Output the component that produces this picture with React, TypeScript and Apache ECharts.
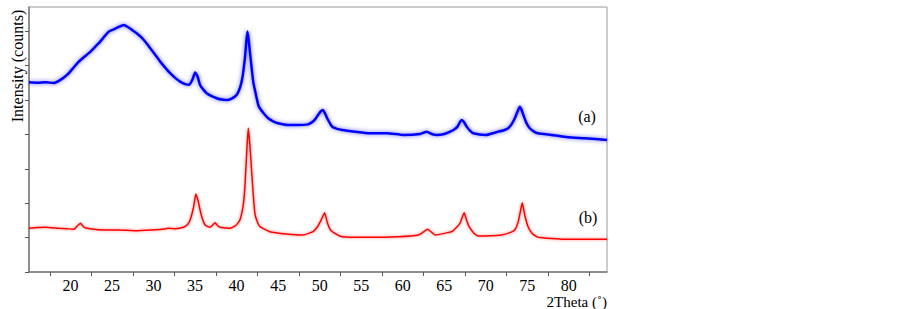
import React, { useEffect, useRef } from "react";
import * as echarts from "echarts";

// 2Theta positions (deg) and intensities (counts, arbitrary offset)
const blueX = [15.0,16.0,17.0,18.0,18.6,19.2,19.8,20.4,21.0,21.6,22.2,22.8,23.4,24.0,24.6,25.2,25.8,26.4,26.9,27.4,28.0,28.6,29.1,29.6,30.2,30.8,31.4,32.0,32.6,33.2,33.8,34.3,34.7,35.0,35.3,35.6,36.0,36.4,37.0,37.6,38.2,38.8,39.4,40.0,40.4,40.7,41.0,41.15,41.3,41.45,41.6,41.8,42.0,42.2,42.6,42.8,43.3,43.8,44.4,45.0,46.2,47.4,48.6,49.0,49.4,49.8,50.1,50.4,50.7,50.9,51.5,52.1,52.7,54.3,56.0,58.1,60.1,62.1,62.9,63.5,64.1,65.0,65.7,66.2,66.6,66.9,67.1,67.4,67.7,68.1,68.5,70.0,71.5,72.2,72.7,73.1,73.5,73.8,74.1,74.3,74.6,74.9,75.3,75.8,76.3,77.9,79.9,81.9,84.6];
const blueY = [5510,5500,5515,5490,5552,5650,5776,5950,6113,6240,6358,6500,6648,6820,6985,7050,7120,7180,7120,7035,6930,6800,6660,6503,6310,6113,5940,5776,5640,5532,5460,5440,5600,5800,5680,5436,5300,5195,5110,5050,5010,5000,5040,5145,5350,5650,6212,6650,6985,6750,6404,5950,5532,5291,4855,4759,4600,4468,4380,4323,4273,4273,4290,4340,4419,4560,4660,4709,4580,4468,4224,4160,4128,4078,4032,4032,3983,4012,4078,4010,3983,4010,4078,4140,4224,4360,4419,4350,4224,4110,4032,3983,4078,4120,4177,4290,4468,4650,4805,4720,4515,4330,4177,4080,4032,3983,3916,3887,3837];

const redX = [15.0,16.0,17.0,18.6,19.5,20.4,20.8,21.2,21.6,22.0,23.8,25.8,27.8,29.8,31.0,31.8,32.6,33.6,34.1,34.4,34.8,35.1,35.4,35.6,35.9,36.2,36.8,37.1,37.4,37.7,38.0,39.2,39.9,40.4,40.8,41.0,41.2,41.4,41.6,41.8,42.0,42.2,42.5,42.8,44.0,46.0,48.0,49.2,49.8,50.2,50.6,50.9,51.3,52.0,52.7,55.5,59.5,61.9,62.6,63.0,63.5,63.9,65.9,66.5,66.9,67.4,67.7,68.0,68.5,69.1,71.9,73.0,73.5,73.9,74.2,74.4,74.7,75.1,75.6,76.3,79.5,84.6];
const redY = [1270,1290,1299,1270,1260,1241,1337,1416,1308,1270,1221,1221,1201,1221,1240,1270,1260,1299,1380,1512,1860,2267,2035,1802,1530,1366,1299,1360,1433,1350,1299,1270,1350,1512,1950,2480,3401,4177,3692,2965,2250,1706,1450,1317,1172,1105,1076,1172,1337,1520,1724,1450,1221,1100,1026,1009,1026,1076,1180,1241,1150,1076,1172,1300,1416,1724,1500,1317,1150,1047,1076,1150,1221,1450,1800,2015,1650,1317,1120,1009,951,951];

const xLabelValues = [20, 25, 30, 35, 40, 45, 50, 55, 60, 65, 70, 75, 80];
const xTickValues = [17.5, 22.5, 27.5, 32.5, 37.5, 42.5, 47.5, 52.5, 57.5, 62.5, 67.5, 72.5, 77.5, 82.5];
const yTickValues = [0, 1000, 2000, 3000, 4000, 5000, 6000, 7000];

const SERIF = "'Liberation Serif', 'DejaVu Serif', serif";

export default function App() {
  const ref = useRef<HTMLDivElement>(null);
  useEffect(() => {
    if (!ref.current) return;
    const chart = echarts.init(ref.current, null, { renderer: "svg" });
    const blue = blueX.map((x, i) => [x, blueY[i]]);
    const red = redX.map((x, i) => [x, redY[i]]);
    chart.setOption({
      animation: false,
      backgroundColor: "#ffffff",
      grid: {
        left: 29,
        top: 7,
        right: 296,
        bottom: 37,
        show: true,
        borderColor: "#9a9a9a",
        borderWidth: 1,
        backgroundColor: "transparent",
      },
      xAxis: {
        type: "value",
        min: 15,
        max: 84.6,
        axisLine: { show: true, onZero: false, lineStyle: { color: "#7a7a7a", width: 1.5 } },
        axisTick: { show: true, inside: false, length: 4, customValues: xTickValues, lineStyle: { color: "#555" } },
        axisLabel: {
          show: true,
          customValues: xLabelValues,
          color: "#000",
          fontFamily: SERIF,
          fontSize: 16,
          lineHeight: 16,
          margin: 5,
        },
        splitLine: { show: false },
      },
      yAxis: {
        type: "value",
        min: 0,
        max: 7700,
        interval: 1000,
        axisLine: { show: true, lineStyle: { color: "#7a7a7a", width: 1.5 } },
        axisTick: { show: true, inside: false, length: 4, customValues: yTickValues, lineStyle: { color: "#555" } },
        axisLabel: { show: false },
        splitLine: { show: false },
      },
      series: [
        {
          name: "(a)",
          type: "line",
          data: blue,
          showSymbol: false,
          smooth: 0.15,
          lineStyle: { color: "#0000ff", width: 2.5, shadowColor: "rgba(0,0,255,0.6)", shadowBlur: 4 },
        },
        {
          name: "(b)",
          type: "line",
          data: red,
          showSymbol: false,
          smooth: 0.15,
          lineStyle: { color: "#ff0000", width: 1.5, shadowColor: "rgba(255,0,0,0.5)", shadowBlur: 3 },
        },
      ],
      graphic: [
        {
          type: "text",
          x: 17,
          y: 66,
          rotation: Math.PI / 2,
          style: {
            text: "Intensity (counts)",
            fontFamily: SERIF,
            fontSize: 16,
            fill: "#000",
            align: "center",
            verticalAlign: "middle",
          },
        },
        {
          type: "text",
          x: 607,
          y: 302,
          style: {
            text: "2Theta (˚)",
            fontFamily: SERIF,
            fontSize: 15,
            lineHeight: 15,
            fill: "#000",
            align: "right",
            verticalAlign: "middle",
          },
        },
        {
          type: "text",
          x: 587,
          y: 116,
          style: { text: "(a)", fontFamily: SERIF, fontSize: 16, fill: "#000", align: "center", verticalAlign: "middle" },
        },
        {
          type: "text",
          x: 588,
          y: 217,
          style: { text: "(b)", fontFamily: SERIF, fontSize: 16, fill: "#000", align: "center", verticalAlign: "middle" },
        },
      ],
    });
    return () => chart.dispose();
  }, []);
  return <div ref={ref} style={{ position: "fixed", left: 0, top: 0, width: 903, height: 309 }} />;
}
